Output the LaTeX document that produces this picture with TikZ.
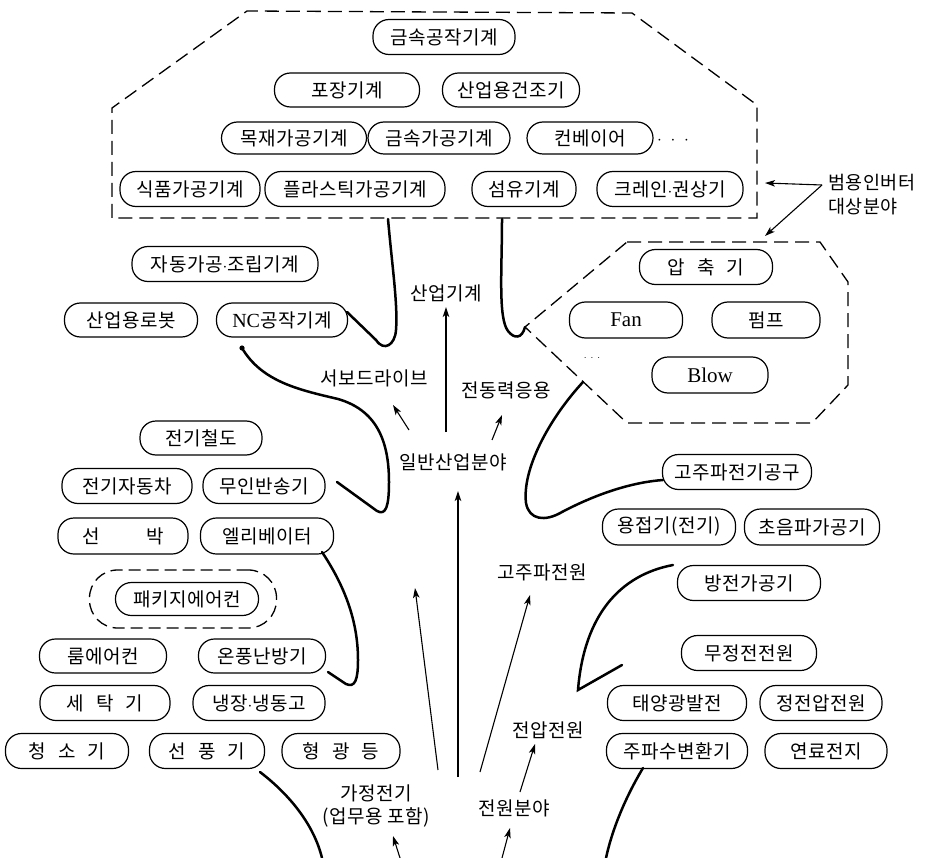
\documentclass[tikz,border=0pt]{standalone}
\usepackage{fontspec}
\setmainfont{Liberation Serif}
\newfontfamily\kr[LetterSpace=3]{Noto Sans CJK KR}
\usetikzlibrary{arrows.meta,calc}
\newcommand{\gp}{\hspace{12pt}}
\begin{document}
\begin{tikzpicture}[x=1pt,y=-1pt,
  pill/.style={draw, line width=1.2pt, rounded corners=16pt, minimum height=34pt, inner sep=0pt, font=\fontsize{19}{22}\selectfont\kr},
  lbl/.style={font=\fontsize{19}{23}\selectfont\kr, inner sep=0pt},
  lat/.style={font=\fontsize{21}{22}\selectfont\rmfamily},
  branch/.style={line width=2.5pt, line cap=round},
  arr/.style={line width=1.1pt, -{Stealth[length=10pt,width=6.5pt,inset=2.5pt]}},
  dashbox/.style={line width=1.3pt, dash pattern=on 14pt off 7pt}]
\fill[white] (0,0) rectangle (925,858);
\useasboundingbox (0,0) rectangle (925,858);

% ---------- top dashed region ----------
\coordinate (p1a) at (112,218);
\coordinate (p1b) at (112,108);
\coordinate (p1c) at (247,11);
\coordinate (p1d) at (632,13);
\coordinate (p1e) at (757,105);
\coordinate (p1f) at (757,218);
\draw[dashbox] (p1a) -- (p1b) -- (p1c) -- (p1d) -- (p1e) -- (p1f) -- cycle;

\node[pill,minimum width=142pt,minimum height=35pt] (mw) at (444,37) {금속공작기계};
\node[pill,minimum width=145pt] (pk) at (347,90) {포장기계};
\node[pill,minimum width=137pt] (dry) at (511,90) {산업용건조기};
\node[pill,minimum width=145pt,minimum height=32pt] (wood) at (294,138) {목재가공기계};
\node[pill,minimum width=142pt,minimum height=32pt] (metal) at (439,138) {금속가공기계};
\node[pill,minimum width=126pt,minimum height=32pt] (conv) at (590,138) {컨베이어};
\node[lbl] (dots1) at (673,141) {$\cdot\;\cdot\;\cdot$};
\node[pill,minimum width=140pt,minimum height=35pt] (food) at (190,189) {식품가공기계};
\node[pill,minimum width=180pt,minimum height=35pt] (plas) at (355,189) {플라스틱가공기계};
\node[pill,minimum width=104pt,minimum height=35pt] (fib) at (524,189) {섬유기계};
\node[pill,minimum width=146pt,minimum height=35pt] (crane) at (670,189) {크레인$\cdot$권상기};

% ---------- right dashed region ----------
\coordinate (p2a) at (627,242);
\coordinate (p2b) at (820,242);
\coordinate (p2c) at (848,282);
\coordinate (p2d) at (848,385);
\coordinate (p2e) at (812,423);
\coordinate (p2f) at (627,423);
\coordinate (p2g) at (525,327);
\draw[dashbox] (p2a) -- (p2b) -- (p2c) -- (p2d) -- (p2e) -- (p2f) -- (p2g) -- cycle;

\node[pill,minimum width=133pt,minimum height=35pt] (comp) at (706,267) {압\gp 축\gp 기};
\node[pill,lat,minimum width=113pt,minimum height=36pt] (fan) at (626,320) {Fan};
\node[pill,minimum width=108pt,minimum height=36pt] (pump) at (766,320) {펌프};
\node[pill,lat,minimum width=116pt,minimum height=36pt] (blow) at (710,375) {Blow};
\node[lbl,font=\fontsize{10}{12}\selectfont] (dots2) at (592,358) {$\cdot\,\cdot\,\cdot$};

% general-purpose inverter label
\node[lbl,anchor=west,align=left,font=\fontsize{18.5}{24}\selectfont\kr] (gen) at (828,195) {범용인버터\\대상분야};
\coordinate (g0) at (822,185);
\coordinate (g1) at (765,183);
\coordinate (g2) at (765,236);
\draw[arr] (g0) -- (g1);
\draw[arr] (g0) -- (g2);

% ---------- left column ----------
\node[pill,minimum width=186pt,minimum height=35pt] (auto) at (225,264) {자동가공$\cdot$조립기계};
\node[pill,minimum width=133pt] (robot) at (131,320) {산업용로봇};
\node[pill,minimum width=131pt] (nc) at (282,320) {{\fontsize{20}{21}\selectfont\rmfamily NC}공작기계};
\node[pill,minimum width=122pt] (rail) at (201,438) {전기철도};
\node[pill,minimum width=130pt,minimum height=35pt] (ev) at (127,486) {전기자동차};
\node[pill,minimum width=122pt,minimum height=35pt] (agv) at (264,486) {무인반송기};
\node[pill,minimum width=130pt,minimum height=36pt] (ship) at (123,536) {선\hspace{46pt}박};
\node[pill,minimum width=133pt,minimum height=36pt] (elev) at (267,536) {엘리베이터};
\node[draw,line width=1.3pt,dash pattern=on 12pt off 6pt,rounded corners=28pt,minimum width=187pt,minimum height=58pt] (pkgbox) at (183,599) {};
\node[pill,minimum width=143pt,minimum height=33pt] (pkg) at (187,599) {패키지에어컨};
\node[pill,minimum width=127pt] (room) at (103,656) {룸에어컨};
\node[pill,minimum width=127pt] (heat) at (262,656) {온풍난방기};
\node[pill,minimum width=130pt,minimum height=35pt] (wash) at (105,703) {세\gp 탁\gp 기};
\node[pill,minimum width=132pt,minimum height=35pt] (fridge) at (259,703) {냉장$\cdot$냉동고};
\node[pill,minimum width=123pt,minimum height=35pt] (vac) at (67,751) {청\gp 소\gp 기};
\node[pill,minimum width=115pt,minimum height=35pt] (efan) at (207,751) {선\gp 풍\gp 기};
\node[pill,minimum width=118pt,minimum height=35pt] (lamp) at (341,751) {형\gp 광\gp 등};

% ---------- right column ----------
\node[pill,minimum width=149pt,minimum height=35pt] (hft) at (737,472) {고주파전기공구};
\node[pill,minimum width=133pt,minimum height=36pt] (weld) at (669,527) {용접기(전기)};
\node[pill,minimum width=135pt,minimum height=36pt] (ultra) at (812,527) {초음파가공기};
\node[pill,minimum width=143pt,minimum height=35pt] (edm) at (749,583) {방전가공기};
\node[pill,minimum width=135pt,minimum height=35pt] (ups) at (749,653) {무정전전원};
\node[pill,minimum width=139pt,minimum height=35pt] (solar) at (677,703) {태양광발전};
\node[pill,minimum width=122pt,minimum height=35pt] (cvs) at (821,703) {정전압전원};
\node[pill,minimum width=141pt,minimum height=35pt] (fconv) at (677,751) {주파수변환기};
\node[pill,minimum width=122pt,minimum height=35pt] (fuel) at (826,751) {연료전지};

% ---------- centre labels ----------
\node[lbl] (indm) at (446,293) {산업기계};
\node[lbl] (servo) at (374,378) {서보드라이브};
\node[lbl] (motor) at (506,390) {전동력응용};
\node[lbl] (geni) at (453,462) {일반산업분야};
\node[lbl] (hfp) at (542,572) {고주파전원};
\node[lbl] (vps) at (548,730) {전압전원};
\node[lbl] (psf) at (514,808) {전원분야};
\node[lbl,align=center] (home) at (376,806) {가정전기\\(업무용 포함)};

% ---------- arrows ----------
\coordinate (a1s) at (446,432); \coordinate (a1e) at (446,307);
\coordinate (a2s) at (409,430); \coordinate (a2e) at (393,405);
\coordinate (a3s) at (492,440); \coordinate (a3e) at (502,415);
\coordinate (a4s) at (458,777); \coordinate (a4e) at (458,491);
\coordinate (a5s) at (438,770); \coordinate (a5e) at (415,588);
\coordinate (a6s) at (480,772); \coordinate (a6e) at (530,595);
\coordinate (a7s) at (520,792); \coordinate (a7e) at (535,744);
\coordinate (a8s) at (502,858); \coordinate (a8e) at (510,828);
\coordinate (a9s) at (400,858); \coordinate (a9e) at (393,836);
\draw[arr] (a1s) -- (a1e);
\draw[arr] (a2s) -- (a2e);
\draw[arr] (a3s) -- (a3e);
\draw[arr] (a4s) -- (a4e);
\draw[arr] (a5s) -- (a5e);
\draw[arr] (a6s) -- (a6e);
\draw[arr] (a7s) -- (a7e);
\draw[arr] (a8s) -- (a8e);
\draw[arr] (a9s) -- (a9e);

% ---------- thick branches ----------
\coordinate (b1s) at (388,219);
\coordinate (b1e) at (347,312);
\draw[branch] (b1s) .. controls (392,265) and (398,305) .. (396,330)
  .. controls (395,345) and (384,352) .. (376,340) -- (b1e);

\coordinate (b2s) at (502,219);
\draw[branch] (b2s) .. controls (502,270) and (498,318) .. (508,331)
  .. controls (514,339) and (522,339) .. (p2g);

\coordinate (b3s) at (583,382);
\coordinate (b3e) at (663,480);
\draw[branch] (b3s) .. controls (548,420) and (522,470) .. (526,503)
  .. controls (529,520) and (545,522) .. (562,512)
  .. controls (600,492) and (635,482) .. (b3e);

\coordinate (b4s) at (242,348);
\coordinate (b4e) at (337,482);
\fill (b4s) circle (2.6pt);
\draw[branch] (b4s) .. controls (262,382) and (300,390) .. (338,399)
  .. controls (376,410) and (389,440) .. (389,482)
  .. controls (389,506) and (386,516) .. (377,511) -- (b4e);

\coordinate (b5s) at (322,552);
\coordinate (b5e) at (328,672);
\draw[branch] (b5s) .. controls (344,585) and (358,620) .. (358,660)
  .. controls (358,680) and (355,688) .. (346,684) -- (b5e);

\coordinate (b6s) at (260,772);
\coordinate (b6e) at (322,858);
\draw[branch] (b6s) .. controls (290,795) and (314,825) .. (b6e);

\coordinate (b7s) at (643,768);
\coordinate (b7e) at (606,858);
\draw[branch] (b7s) .. controls (625,798) and (612,830) .. (b7e);

\coordinate (b8s) at (673,565);
\coordinate (b8e) at (622,665);
\draw[branch] (b8s) .. controls (620,575) and (584,615) .. (578,690) -- (b8e);
\end{tikzpicture}
\end{document}
